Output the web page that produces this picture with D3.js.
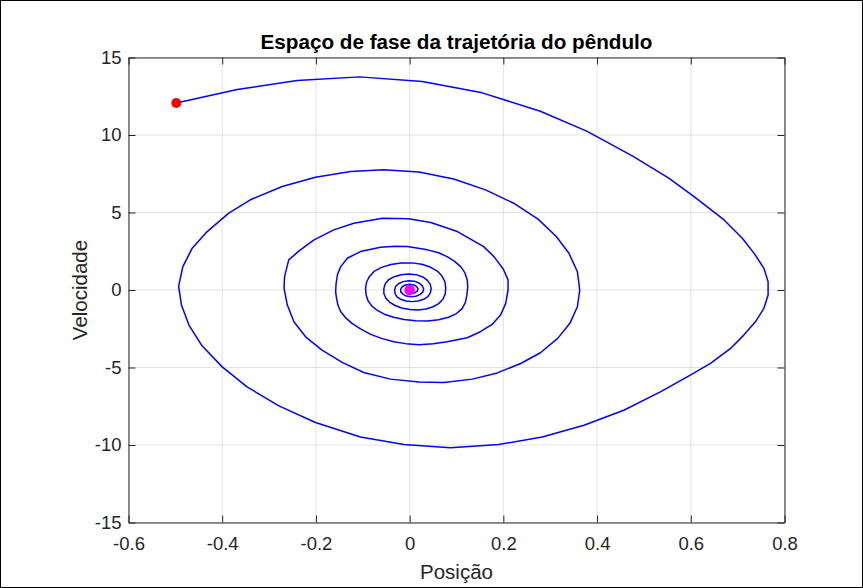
<!DOCTYPE html>
<html>
<head>
<meta charset="utf-8">
<script src="https://cdn.jsdelivr.net/npm/d3@7/dist/d3.min.js"></script>
<style>
  html, body { margin: 0; padding: 0; background: #fff; }
  svg { display: block; }
  text { font-family: "Liberation Sans", Arial, Helvetica, sans-serif; }
</style>
</head>
<body>
<svg id="chart" width="863" height="588"></svg>
<script>
// ---- data ----
const titleText = "Espaço de fase da trajetória do pêndulo";
const xLabelText = "Posição";
const yLabelText = "Velocidade";

const xTicks = [-0.6, -0.4, -0.2, 0, 0.2, 0.4, 0.6, 0.8];
const xTickLabels = ["-0.6", "-0.4", "-0.2", "0", "0.2", "0.4", "0.6", "0.8"];
const yTicks = [-15, -10, -5, 0, 5, 10, 15];
const yTickLabels = ["-15", "-10", "-5", "0", "5", "10", "15"];

// trajectory: position (x) and velocity (v), in time order
const posicao = [
  // outer loops
  -0.498, -0.368, -0.240, -0.107, 0.027, 0.155, 0.279, 0.379, 0.477, 0.553,
  0.607, 0.671, 0.710, 0.736, 0.756, 0.765, 0.765, 0.756, 0.738, 0.713,
  0.685, 0.642, 0.599, 0.535, 0.457, 0.372, 0.283, 0.190, 0.087, -0.012,
  -0.105, -0.201, -0.279, -0.347, -0.400, -0.443, -0.471, -0.487, -0.493, -0.484,
  -0.464, -0.432, -0.386, -0.340, -0.272, -0.201, -0.126, -0.056, 0.020, 0.094,
  0.162, 0.222, 0.274, 0.313, 0.340, 0.358, 0.363, 0.358, 0.342, 0.316,
  0.279, 0.237, 0.187, 0.134, 0.073, 0.020, -0.041, -0.098, -0.144, -0.187,
  -0.222, -0.247, -0.261, -0.268, -0.267, -0.258, -0.236, -0.204, -0.162, -0.119,
  -0.058, -0.002, 0.045, 0.102, 0.158, 0.180, 0.200, 0.210, 0.210, 0.205,
  0.194, 0.176, 0.151, 0.123, 0.080,
  // third loop
  0.050, 0.020, -0.008, -0.034, -0.060, -0.083, -0.104, -0.123, -0.137, -0.147,
  -0.153, -0.156, -0.158, -0.157, -0.154, -0.147, -0.133, -0.105, -0.062, -0.030,
  -0.005, 0.038, 0.062, 0.080, 0.096, 0.109, 0.118, 0.123, 0.124,
  // fourth loop
  0.122, 0.119, 0.112, 0.100, 0.083, 0.062, 0.038, 0.013, -0.012, -0.034,
  -0.054, -0.069, -0.081, -0.089, -0.093, -0.094, -0.092, -0.086, -0.076, -0.060,
  -0.040, -0.018, 0.005, 0.026, 0.044, 0.059, 0.069, 0.075, 0.077,
  // fifth loop
  0.076, 0.071, 0.062, 0.050, 0.035, 0.018, 0.000, -0.017, -0.031, -0.043,
  -0.051, -0.055, -0.055, -0.052, -0.045, -0.033, -0.018, -0.002, 0.014, 0.028,
  0.038, 0.044, 0.046,
  // sixth loop
  0.044, 0.039, 0.030, 0.018, 0.005, -0.008, -0.019, -0.027, -0.031, -0.032,
  -0.030, -0.024, -0.014, -0.002, 0.010, 0.020, 0.027, 0.030,
  // innermost turns
  0.028, 0.022, 0.013, 0.003, -0.007, -0.014, -0.019, -0.019, -0.016, -0.009,
  0.000, 0.009, 0.015, 0.018, 0.016, 0.011, 0.004, -0.003, -0.008, -0.008,
  -0.004, 0.002, 0.004, 0.002, 0.000
];
const velocidade = [
  // outer loops
  12.07, 12.93, 13.51, 13.75, 13.45, 12.72, 11.53, 10.23, 8.62, 7.22,
  6.03, 4.52, 3.34, 2.33, 1.40, 0.54, -0.32, -1.18, -2.05, -2.91,
  -3.77, -4.74, -5.49, -6.57, -7.76, -8.73, -9.48, -9.97, -10.17, -9.97,
  -9.48, -8.55, -7.48, -6.25, -4.96, -3.60, -2.26, -0.97, 0.25, 1.51,
  2.70, 3.77, 4.96, 5.82, 6.68, 7.28, 7.65, 7.76, 7.61, 7.16,
  6.46, 5.60, 4.57, 3.45, 2.37, 1.18, 0.00, -1.08, -2.15, -3.12,
  -4.05, -4.74, -5.35, -5.75, -5.97, -5.93, -5.75, -5.32, -4.67, -3.88,
  -3.02, -2.05, -0.97, 0.11, 0.86, 1.94, 2.52, 3.23, 3.88, 4.31,
  4.63, 4.59, 4.35, 3.77, 2.80, 2.15, 1.34, 0.65, 0.00, -0.86,
  -1.62, -2.22, -2.69, -3.08, -3.34,
  // third loop
  -3.47, -3.53, -3.46, -3.34, -3.12, -2.86, -2.52, -2.15, -1.78, -1.40,
  -0.97, -0.54, -0.10, 0.40, 1.00, 1.51, 2.05, 2.48, 2.76, 2.82,
  2.80, 2.59, 2.40, 2.15, 1.85, 1.51, 1.10, 0.65, 0.20,
  // fourth loop
  -0.35, -0.80, -1.20, -1.52, -1.76, -1.92, -2.00, -1.98, -1.90, -1.76,
  -1.56, -1.32, -1.02, -0.68, -0.30, 0.10, 0.50, 0.86, 1.20, 1.46,
  1.65, 1.74, 1.75, 1.66, 1.48, 1.22, 0.90, 0.55, 0.15,
  // fifth loop
  -0.25, -0.60, -0.88, -1.08, -1.22, -1.29, -1.26, -1.16, -1.00, -0.78,
  -0.52, -0.22, 0.10, 0.40, 0.66, 0.86, 0.99, 1.04, 0.99, 0.84,
  0.62, 0.36, 0.08,
  // sixth loop
  -0.20, -0.42, -0.60, -0.71, -0.75, -0.71, -0.60, -0.44, -0.24, 0.00,
  0.22, 0.40, 0.54, 0.60, 0.57, 0.45, 0.27, 0.06,
  // innermost turns
  -0.14, -0.30, -0.40, -0.43, -0.39, -0.28, -0.12, 0.05, 0.21, 0.32,
  0.37, 0.33, 0.22, 0.07, -0.08, -0.18, -0.22, -0.18, -0.08, 0.04,
  0.12, 0.12, 0.04, -0.02, 0.00
];
const startPoint = [-0.498, 12.07];
const endPoint = [0.0, 0.0];

// ---- drawing ----
const svg = d3.select("#chart");
const W = 863, H = 588;
const pL = 128.5, pR = 784.5, pT = 57.5, pB = 522.5;

const x = d3.scaleLinear().domain([-0.6, 0.8]).range([pL, pR]);
const y = d3.scaleLinear().domain([-15, 15]).range([pB, pT]);

svg.append("rect").attr("x", 0).attr("y", 0).attr("width", W).attr("height", H).attr("fill", "#fff");

// grid
const grid = svg.append("g").attr("stroke", "#e3e3e3").attr("stroke-width", 1);
grid.selectAll("line.gx").data(xTicks).join("line").attr("class", "gx")
  .attr("x1", d => x(d)).attr("x2", d => x(d))
  .attr("y1", pT).attr("y2", pB);
grid.selectAll("line.gy").data(yTicks).join("line").attr("class", "gy")
  .attr("y1", d => y(d)).attr("y2", d => y(d))
  .attr("x1", pL).attr("x2", pR);

// trajectory
const n = Math.min(posicao.length, velocidade.length);
const pts = d3.range(n).map(i => [posicao[i], velocidade[i]]);
const line = d3.line().x(d => x(d[0])).y(d => y(d[1]));
svg.append("path").datum(pts)
  .attr("d", line)
  .attr("fill", "none")
  .attr("stroke", "#0000ff")
  .attr("stroke-width", 1.5)
  .attr("stroke-linejoin", "round");

// markers
svg.append("circle").attr("cx", x(startPoint[0])).attr("cy", y(startPoint[1])).attr("r", 5).attr("fill", "#ff0000");
svg.append("circle").attr("cx", x(endPoint[0])).attr("cy", y(endPoint[1])).attr("r", 5.3).attr("fill", "#ff00ff");

// axes
const axisColor = "#262626";
const tickFont = 18.5;
function styleAxis(g) {
  g.attr("font-family", null).attr("font-size", null);
  g.select(".domain").attr("stroke", axisColor).attr("stroke-width", 1);
  g.selectAll(".tick line").attr("stroke", axisColor).attr("stroke-width", 1);
  g.selectAll(".tick text").attr("fill", axisColor)
    .style("font-family", '"Liberation Sans", Arial, Helvetica, sans-serif')
    .style("font-size", tickFont + "px");
}

const xAxisB = d3.axisBottom(x).tickValues(xTicks).tickSizeInner(-7).tickSizeOuter(0)
  .tickPadding(14).tickFormat((d, i) => xTickLabels[i]);
svg.append("g").attr("transform", `translate(0,${pB})`).call(xAxisB).call(styleAxis);

const xAxisT = d3.axisTop(x).tickValues(xTicks).tickSizeInner(-7).tickSizeOuter(0).tickFormat("");
svg.append("g").attr("transform", `translate(0,${pT})`).call(xAxisT).call(styleAxis);

const yAxisL = d3.axisLeft(y).tickValues(yTicks).tickSizeInner(-7).tickSizeOuter(0)
  .tickPadding(7).tickFormat((d, i) => yTickLabels[i]);
svg.append("g").attr("transform", `translate(${pL},0)`).call(yAxisL).call(styleAxis);

const yAxisR = d3.axisRight(y).tickValues(yTicks).tickSizeInner(-7).tickSizeOuter(0).tickFormat("");
svg.append("g").attr("transform", `translate(${pR},0)`).call(yAxisR).call(styleAxis);

// titles
svg.append("text")
  .attr("x", (pL + pR) / 2).attr("y", 48.5)
  .attr("text-anchor", "middle")
  .attr("font-weight", "bold")
  .attr("font-size", 20.7)
  .attr("fill", "#000")
  .text(titleText);

svg.append("text")
  .attr("x", (pL + pR) / 2).attr("y", 579)
  .attr("text-anchor", "middle")
  .attr("font-size", 20.5)
  .attr("fill", axisColor)
  .text(xLabelText);

svg.append("text")
  .attr("transform", `translate(87,${(pT + pB) / 2}) rotate(-90)`)
  .attr("text-anchor", "middle")
  .attr("font-size", 20.5)
  .attr("fill", axisColor)
  .text(yLabelText);

// outer figure frame
svg.append("rect").attr("x", 0.5).attr("y", 0.5).attr("width", W - 1).attr("height", H - 1)
  .attr("fill", "none").attr("stroke", "#000").attr("stroke-width", 1);
</script>
</body>
</html>
